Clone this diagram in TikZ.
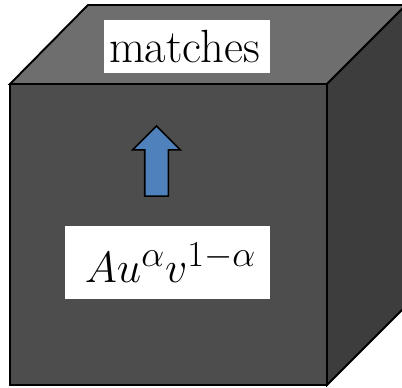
\documentclass[tikz,border=0pt]{standalone}
\usepackage{amsmath}
\usepackage{tikz}
\usetikzlibrary{shapes.arrows, positioning}
\definecolor{frontgrey}{RGB}{77, 77, 77}
\definecolor{topgrey}{RGB}{110, 110, 110}
\definecolor{sidegrey}{RGB}{61, 61, 61}
\definecolor{arrowblue}{RGB}{79, 129, 189}

\begin{document}
\begin{tikzpicture}[x=0.02cm, y=-0.02cm,
    face/.style={draw=black, line width=1.1pt, line join=miter},
    label/.style={rectangle, fill=white, inner sep=0pt, align=center},
    uparrow/.style={single arrow, draw=black, fill=arrowblue, line width=0.9pt, minimum height=1.4cm, inner xsep=0pt, inner ysep=0.22cm, single arrow head extend=0.24cm, rotate=90}
]
\useasboundingbox (0,0) rectangle (402,388);

% Cube faces
\draw [face, fill=topgrey]   (10,84) -- (88,5) -- (406,5) -- (327,84) -- cycle;
\draw [face, fill=sidegrey]  (327,84) -- (406,5) -- (406,306) -- (327,385) -- cycle;
\draw [face, fill=frontgrey] (10,84) rectangle (327,385);

% Labels
\node (MATCHES) [label, minimum width=3.32cm, minimum height=1.06cm] at (187,46.5) {\hspace*{-0.1cm}\fontsize{26.5}{30}\selectfont matches};
\node (PROD)    [label, minimum width=4.1cm, minimum height=1.46cm] at (167.5,262.5) {\hspace*{0.12cm}\fontsize{30}{36}\selectfont $Au^{\alpha}v^{1-\alpha}$};

% Arrow
\node (UP) [uparrow] at (156.5,167) {};

\end{tikzpicture}
\end{document}
